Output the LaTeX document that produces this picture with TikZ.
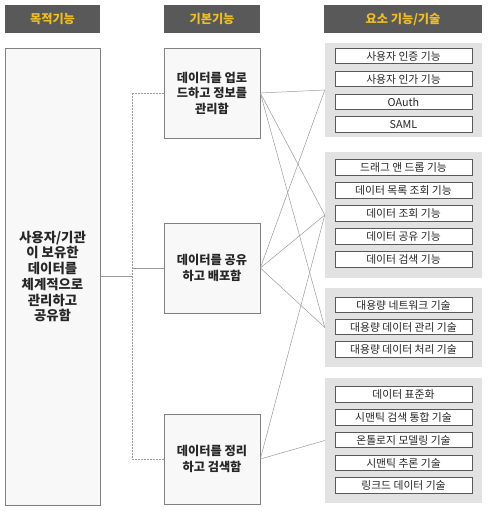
\documentclass[tikz,border=0pt]{standalone}
\usepackage{fontspec}
\setmainfont{Noto Sans CJK KR}
\usetikzlibrary{calc}
\definecolor{hdrgray}{HTML}{595959}
\definecolor{hdrgold}{HTML}{F0C020}
\definecolor{boxfill}{HTML}{F8F8F8}
\definecolor{boxline}{HTML}{808080}
\definecolor{grpfill}{HTML}{E2E2E2}
\definecolor{linkgray}{HTML}{9A9A9A}
\tikzset{
	hdr/.style={fill=hdrgray,text=hdrgold,font=\fontsize{12.2}{14}\selectfont\bfseries,inner sep=0pt,minimum height=28pt},
	funcbox/.style={draw=boxline,fill=boxfill,line width=0.7pt,align=center,inner sep=0pt,text=black!85},
	grp/.style={fill=grpfill,minimum width=157pt,inner sep=0pt},
	item/.style={draw=hdrgray,fill=white,line width=0.6pt,minimum width=137pt,minimum height=15.5pt,inner sep=0pt,text=black!85,font=\fontsize{10.8}{12}\selectfont},
	link/.style={draw=linkgray,line width=0.5pt},
	dlink/.style={link,dash pattern=on 2pt off 1pt}
}
\begin{document}
\begin{tikzpicture}[x=10pt,y=-10pt]
	%\draw[step=1,gray!15] (0,0) grid (49.1,51.1); %helper grid
	\useasboundingbox (0,0) rectangle (49.1,51.1);
	\node[hdr,minimum width=95pt] (h1) at (5.25,1.9) {목적기능}; \node[hdr,minimum width=96pt] (h2) at (21.2,1.9) {기본기능}; \node[hdr,minimum width=158pt] (h3) at (40.3,1.9) {요소 기능/기술};
	
	\node[funcbox,minimum width=95pt,minimum height=457pt,font=\fontsize{13.4}{15.7}\selectfont\bfseries] (goal) at (5.25,27.65) {사용자/기관\\이 보유한\\데이터를\\체계적으로\\관리하고\\공유함};
	
	\node[funcbox,minimum width=96pt,minimum height=90pt,font=\fontsize{12.2}{15.5}\selectfont\bfseries] (b1) at (21.2,9.3) {데이터를 업로\\드하고 정보를\\관리함};
	\node[funcbox,minimum width=96pt,minimum height=90pt,font=\fontsize{12.2}{15.5}\selectfont\bfseries] (b2) at (21.2,26.8) {데이터를 공유\\하고 배포함};
	\node[funcbox,minimum width=96pt,minimum height=90pt,font=\fontsize{12.2}{15.5}\selectfont\bfseries] (b3) at (21.2,45.9) {데이터를 정리\\하고 검색함};
	
	\node[grp,minimum height=94pt] (g1) at (40.35,9.0) {}; \node[grp,minimum height=126pt] (g2) at (40.35,21.5) {};
	\node[grp,minimum height=79pt] (g3) at (40.35,32.75) {}; \node[grp,minimum height=125pt] (g4) at (40.35,44.05) {};
	
	\node[item] (auth) at (40.35,5.6) {사용자 인증 기능}; \node[item] (authz) at (40.35,7.9) {사용자 인가 기능}; \node[item] (oauth) at (40.35,10.2) {OAuth}; \node[item] (saml) at (40.35,12.45) {SAML};
	\node[item] (drag) at (40.35,16.75) {드래그 앤 드롭 기능}; \node[item] (list) at (40.35,19.05) {데이터 목록 조회 기능}; \node[item] (view) at (40.35,21.35) {데이터 조회 기능};
	\node[item] (share) at (40.35,23.65) {데이터 공유 기능}; \node[item] (search) at (40.35,25.95) {데이터 검색 기능};
	\node[item] (net) at (40.35,30.5) {대용량 네트워크 기술}; \node[item] (mng) at (40.35,32.7) {대용량 데이터 관리 기술}; \node[item] (proc) at (40.35,34.95) {대용량 데이터 처리 기술};
	\node[item] (std) at (40.35,39.45) {데이터 표준화}; \node[item] (sem) at (40.35,41.75) {시맨틱 검색 통합 기술}; \node[item] (onto) at (40.35,44.0) {온톨로지 모델링 기술};
	\node[item] (infer) at (40.35,46.3) {시맨틱 추론 기술}; \node[item] (link) at (40.35,48.55) {링크드 데이터 기술};
	
	\coordinate (jt) at ($(goal.east)!0.5!(b2.west)$);
	\draw[link] (goal.east) -- (goal.east -| jt); \draw[dlink] (jt |- b1.west) -- (jt |- b3.west);
	\draw[dlink] (jt |- b1.west) -- (b1.west); \draw[link] (jt |- b2.west) -- (b2.west); \draw[dlink] (jt |- b3.west) -- (b3.west);
	
	\draw[link] (b1.east) -- (g1.west); \draw[link] (b1.east) -- (g2.west); \draw[link] (b1.east) -- (g3.west);
	\draw[link] (b2.east) -- (g1.west); \draw[link] (b2.east) -- (g2.west); \draw[link] (b2.east) -- (g3.west);
	\draw[link] (b3.east) -- (g2.west); \draw[link] (b3.east) -- (g4.west);
\end{tikzpicture}
\end{document}
